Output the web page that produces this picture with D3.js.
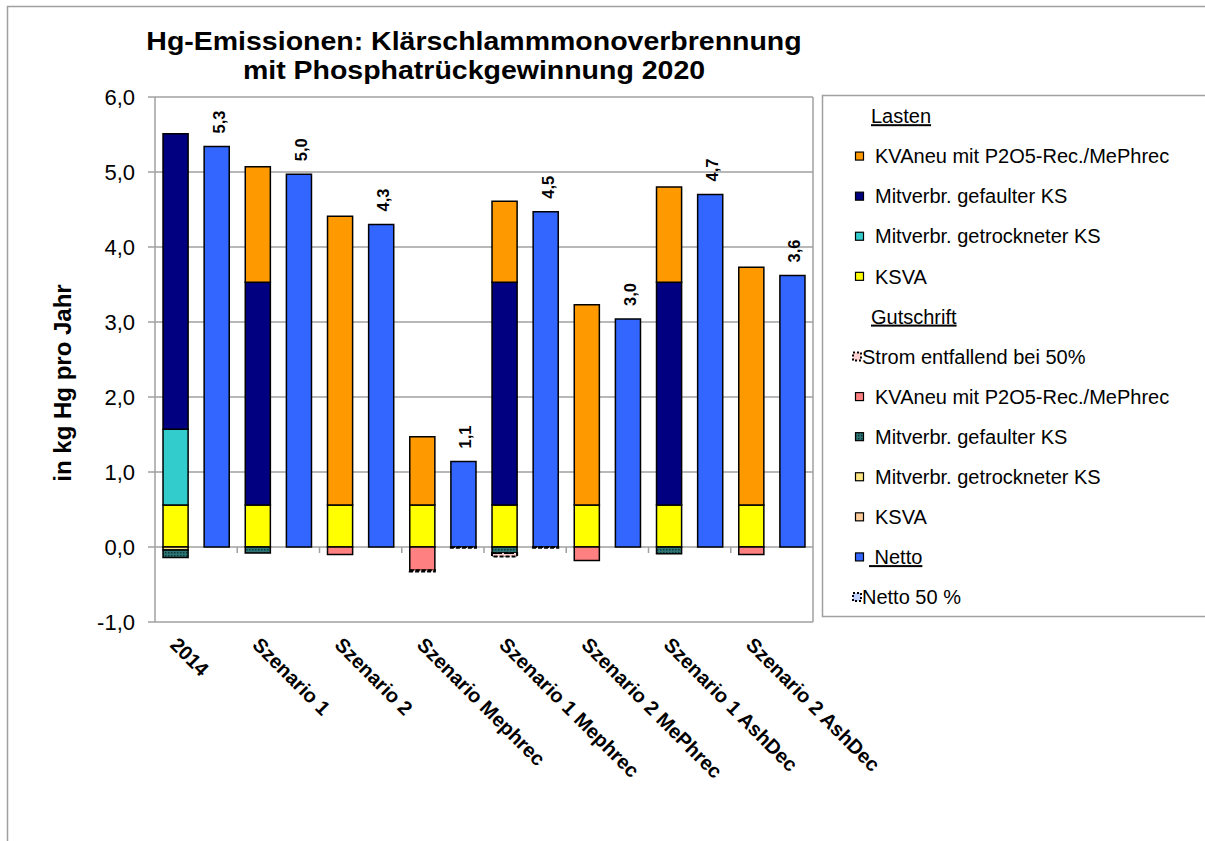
<!DOCTYPE html>
<html><head><meta charset="utf-8">
<script src="https://cdn.jsdelivr.net/npm/d3@7"></script>
<style>
html,body{margin:0;padding:0;background:#fff;}
svg{display:block;font-family:"Liberation Sans",Arial,sans-serif;}
text{white-space:pre;}
</style></head>
<body><svg id="c" width="1205" height="841"></svg>
<script>
// ---- data ----
const categories = ["2014","Szenario 1","Szenario 2","Szenario Mephrec","Szenario 1 Mephrec","Szenario 2 MePhrec","Szenario 1 AshDec","Szenario 2 AshDec"];
// Lasten (positive)
const ksva        = [0.56,0.56,0.56,0.56,0.56,0.56,0.56,0.56];
const getrockn    = [1.01,0,0,0,0,0,0,0];
const gefault     = [3.94,2.97,0,0,2.97,0,2.97,0];
const kvaneu      = [0,1.54,3.85,0.91,1.08,2.67,1.27,3.17];
// Gutschrift (negative)
const ksvaCr      = [0,0,0,0,0,0,0,0];
const getrocknCr  = [-0.04,0,0,0,0,0,0,0];
const gefaultCr   = [-0.10,-0.08,0,0,-0.08,0,-0.09,0];
const kvaneuCr    = [0,0,-0.10,-0.31,0,-0.18,0,-0.10];
const strom50     = [0,0,0,-0.015,-0.045,0,0,0];
// Netto
const netto       = [5.34,4.97,4.30,1.14,4.47,3.04,4.70,3.62];
const netto50     = [0,0,0,-0.01,-0.01,0,0,0];
const yTicks      = [-1,0,1,2,3,4,5,6];
const titleLines  = ["Hg-Emissionen: Klärschlammmonoverbrennung","mit Phosphatrückgewinnung 2020"];
const yTitle      = "in kg Hg pro Jahr";

const locale = d3.formatLocale({decimal:",",thousands:".",grouping:[3],currency:["","€"],minus:"-"});
const f1 = locale.format(".1f");

const svg = d3.select("#c");
const defs = svg.append("defs");
// patterns
const pT = defs.append("pattern").attr("id","pTeal").attr("width",3).attr("height",3).attr("patternUnits","userSpaceOnUse");
pT.append("rect").attr("width",3).attr("height",3).attr("fill","#2f7373");
pT.append("rect").attr("width",1.5).attr("height",1.5).attr("fill","#0b3b3b");
const pS = defs.append("pattern").attr("id","pStrom").attr("width",4).attr("height",4).attr("patternUnits","userSpaceOnUse");
pS.append("rect").attr("width",4).attr("height",4).attr("fill","#ffd0d0");
pS.append("rect").attr("width",2).attr("height",2).attr("fill","#000");
const pN = defs.append("pattern").attr("id","pNet").attr("width",4).attr("height",4).attr("patternUnits","userSpaceOnUse");
pN.append("rect").attr("width",4).attr("height",4).attr("fill","#c0d0ff");
pN.append("rect").attr("width",2).attr("height",2).attr("fill","#000");

// outer frame
svg.append("rect").attr("x",7.5).attr("y",6.5).attr("width",1300).attr("height",900)
  .attr("fill","#fff").attr("stroke","#a0a0a0").attr("stroke-width",1.5);

// scales
const y = d3.scaleLinear().domain([-1,6]).range([622,97]);
const x0 = d3.scaleBand().domain(categories).range([155,813]).padding(0);
const x1 = d3.scaleBand().domain(["stack","netto"]).range([0,x0.bandwidth()]).paddingInner(0.39).paddingOuter(0.195);

// plot frame + grid
const gridCol = "#a0a0a0";
svg.append("g").selectAll("line").data(yTicks).join("line")
  .attr("x1",148).attr("x2",813).attr("y1",d=>y(d)).attr("y2",d=>y(d))
  .attr("stroke",gridCol).attr("stroke-width",1.5);
svg.append("line").attr("x1",813).attr("x2",813).attr("y1",y(6)).attr("y2",y(-1)).attr("stroke",gridCol).attr("stroke-width",1.5);
svg.append("line").attr("x1",155).attr("x2",155).attr("y1",y(6)).attr("y2",y(-1)).attr("stroke",gridCol).attr("stroke-width",1.5);
// category ticks on zero line
svg.append("g").selectAll("line").data(categories.slice(1)).join("line")
  .attr("x1",d=>x0(d)).attr("x2",d=>x0(d)).attr("y1",y(0)).attr("y2",y(0)+6)
  .attr("stroke",gridCol).attr("stroke-width",1.5);

// y axis labels
const yAxis = d3.axisLeft(y).tickValues(yTicks).tickFormat(f1).tickSize(0).tickPadding(0);
const ya = svg.append("g").attr("transform","translate(135,0)").call(yAxis);
ya.select(".domain").remove();
ya.selectAll("text").attr("font-size",22).attr("fill","#000").attr("font-family","Liberation Sans, Arial, sans-serif").attr("dy","0.36em");

// series definitions
const series = [
  {key:"ksva", vals:ksva, fill:"#FFFF00"},
  {key:"getrockn", vals:getrockn, fill:"#33CCCC"},
  {key:"gefault", vals:gefault, fill:"#000080"},
  {key:"kvaneu", vals:kvaneu, fill:"#FF9900"},
  {key:"ksvaCr", vals:ksvaCr, fill:"#FFCC99"},
  {key:"getrocknCr", vals:getrocknCr, fill:"#FFE680"},
  {key:"gefaultCr", vals:gefaultCr, fill:"url(#pTeal)"},
  {key:"kvaneuCr", vals:kvaneuCr, fill:"#FF8080"},
  {key:"strom50", vals:strom50, fill:"url(#pStrom)", dashed:true}
];
const table = categories.map((c,i)=>{const o={cat:c}; series.forEach(s=>o[s.key]=s.vals[i]); return o;});
const stacked = d3.stack().keys(series.map(s=>s.key)).offset(d3.stackOffsetDiverging)(table);

const bw = x1.bandwidth();
stacked.forEach((layer,li)=>{
  const s = series[li];
  svg.append("g").selectAll("rect").data(layer.filter(d=>d[1]!==d[0])).join("rect")
    .attr("x",d=>x0(d.data.cat)+x1("stack"))
    .attr("width",bw)
    .attr("y",d=>y(Math.max(d[0],d[1])))
    .attr("height",d=>Math.abs(y(d[0])-y(d[1])))
    .attr("fill",s.fill)
    .attr("stroke","#000").attr("stroke-width",s.dashed?2:1.5)
    .attr("stroke-dasharray",s.dashed?"4,2":null);
});

// netto bars
svg.append("g").selectAll("rect").data(netto).join("rect")
  .attr("x",(d,i)=>x0(categories[i])+x1("netto"))
  .attr("width",bw)
  .attr("y",d=>y(d)).attr("height",d=>y(0)-y(d))
  .attr("fill","#3366FF").attr("stroke","#000").attr("stroke-width",1.5);
svg.append("g").selectAll("rect").data(netto50.map((v,i)=>({v,i})).filter(d=>d.v!==0)).join("rect")
  .attr("x",d=>x0(categories[d.i])+x1("netto"))
  .attr("width",bw)
  .attr("y",y(0)).attr("height",d=>y(d.v)-y(0))
  .attr("fill","url(#pNet)").attr("stroke","#000").attr("stroke-width",2).attr("stroke-dasharray","4,2");

// value labels
svg.append("g").selectAll("text").data(netto).join("text")
  .attr("transform",(d,i)=>`translate(${x0(categories[i])+x1("netto")+bw/2+2},${y(d)-13}) rotate(-90)`)
  .attr("dy","0.36em").attr("font-size",16.5).attr("font-weight","bold")
  .text(d=>f1(d));

// x labels
svg.append("g").selectAll("text").data(categories).join("text")
  .attr("transform",d=>`translate(${x0(d)+14},646) rotate(45)`)
  .attr("font-size",20).attr("font-weight","bold").text(d=>d);

// title
svg.append("g").selectAll("text").data(titleLines).join("text")
  .attr("transform",(d,i)=>`translate(474,${49.5+i*29}) scale(1.14,1)`)
  .attr("text-anchor","middle").attr("font-size",25).attr("font-weight","bold").text(d=>d);

// y title
svg.append("text").attr("transform","translate(71,383) rotate(-90)")
  .attr("text-anchor","middle").attr("font-size",24).attr("font-weight","bold").text(yTitle);

// legend
const legendItems = [
  {label:"Lasten", header:true},
  {label:"KVAneu mit P2O5-Rec./MePhrec", fill:"#FF9900"},
  {label:"Mitverbr. gefaulter KS", fill:"#000080"},
  {label:"Mitverbr. getrockneter KS", fill:"#33CCCC"},
  {label:"KSVA", fill:"#FFFF00"},
  {label:"Gutschrift", header:true},
  {label:"Strom entfallend bei 50%", fill:"#ffd0d0", special:true},
  {label:"KVAneu mit P2O5-Rec./MePhrec", fill:"#FF8080"},
  {label:"Mitverbr. gefaulter KS", fill:"url(#pTeal)"},
  {label:"Mitverbr. getrockneter KS", fill:"#FFE680"},
  {label:"KSVA", fill:"#FFCC99"},
  {label:" Netto", fill:"#3366FF", underline:true},
  {label:"Netto 50 %", fill:"#c0d0ff", special:true}
];
const lg = svg.append("g");
lg.append("rect").attr("x",822.5).attr("y",95.5).attr("width",400).attr("height",521)
  .attr("fill","#fff").attr("stroke","#a0a0a0").attr("stroke-width",1.5);
const rowY = d3.scalePoint().domain(d3.range(legendItems.length)).range([116,597]);
const lfs = 20;
legendItems.forEach((it,i)=>{
  const cy = rowY(i);
  if(it.header){
    lg.append("text").attr("x",871).attr("y",cy).attr("dy","0.36em").attr("font-size",lfs)
      .attr("text-decoration","underline").text(it.label);
    return;
  }
  if(it.special){
    lg.append("rect").attr("x",853).attr("y",cy-4).attr("width",8).attr("height",8)
      .attr("fill",it.fill).attr("stroke","#000").attr("stroke-width",2).attr("stroke-dasharray","2,2");
    lg.append("text").attr("x",862).attr("y",cy).attr("dy","0.36em").attr("font-size",lfs).text(it.label);
  } else {
    lg.append("rect").attr("x",855.5).attr("y",cy-4).attr("width",8).attr("height",8)
      .attr("fill",it.fill).attr("stroke","#000").attr("stroke-width",1.2);
    lg.append("text").attr("x",it.underline?869:875).attr("y",cy).attr("dy","0.36em").attr("font-size",lfs)
      .attr("text-decoration",it.underline?"underline":null).text(it.label);
  }
});
</script></body></html>
